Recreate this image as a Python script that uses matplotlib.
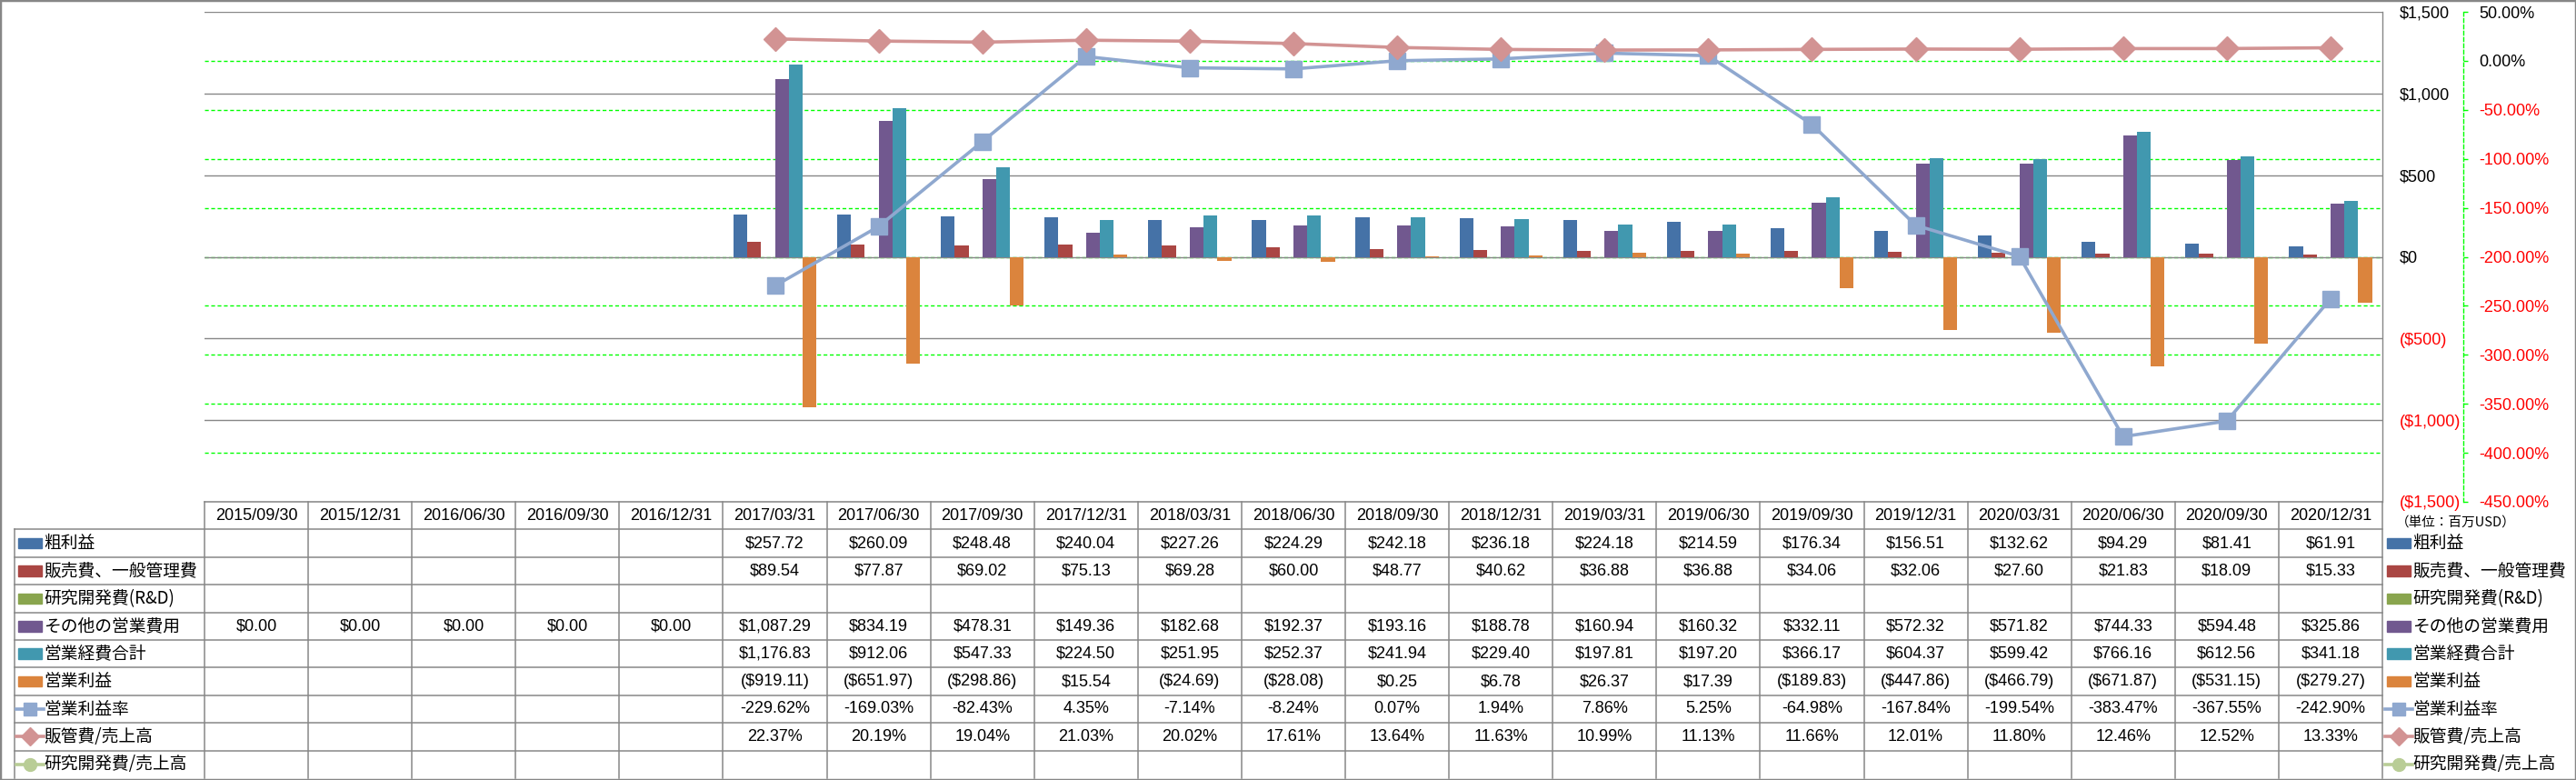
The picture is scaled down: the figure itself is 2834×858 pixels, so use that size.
import numpy as np
import matplotlib
matplotlib.use('Agg')
import matplotlib.pyplot as plt
import matplotlib.transforms as mtransforms
from matplotlib.patches import Rectangle
from matplotlib.lines import Line2D

nan = np.nan

# ---- data (millions USD / percent) ----
dates = ['2015/09/30', '2015/12/31', '2016/06/30', '2016/09/30', '2016/12/31',
         '2017/03/31', '2017/06/30', '2017/09/30', '2017/12/31', '2018/03/31',
         '2018/06/30', '2018/09/30', '2018/12/31', '2019/03/31', '2019/06/30',
         '2019/09/30', '2019/12/31', '2020/03/31', '2020/06/30', '2020/09/30',
         '2020/12/31']

gross_profit = [nan, nan, nan, nan, nan, 257.72, 260.09, 248.48, 240.04, 227.26, 224.29,
                242.18, 236.18, 224.18, 214.59, 176.34, 156.51, 132.62, 94.29, 81.41, 61.91]
sga = [nan, nan, nan, nan, nan, 89.54, 77.87, 69.02, 75.13, 69.28, 60.00,
       48.77, 40.62, 36.88, 36.88, 34.06, 32.06, 27.60, 21.83, 18.09, 15.33]
rnd = [nan] * 21
other_opex = [0.0, 0.0, 0.0, 0.0, 0.0, 1087.29, 834.19, 478.31, 149.36, 182.68, 192.37,
              193.16, 188.78, 160.94, 160.32, 332.11, 572.32, 571.82, 744.33, 594.48, 325.86]
total_opex = [nan, nan, nan, nan, nan, 1176.83, 912.06, 547.33, 224.50, 251.95, 252.37,
              241.94, 229.40, 197.81, 197.20, 366.17, 604.37, 599.42, 766.16, 612.56, 341.18]
op_income = [nan, nan, nan, nan, nan, -919.11, -651.97, -298.86, 15.54, -24.69, -28.08,
             0.25, 6.78, 26.37, 17.39, -189.83, -447.86, -466.79, -671.87, -531.15, -279.27]
op_margin = [nan, nan, nan, nan, nan, -229.62, -169.03, -82.43, 4.35, -7.14, -8.24,
             0.07, 1.94, 7.86, 5.25, -64.98, -167.84, -199.54, -383.47, -367.55, -242.90]
sga_ratio = [nan, nan, nan, nan, nan, 22.37, 20.19, 19.04, 21.03, 20.02, 17.61,
             13.64, 11.63, 10.99, 11.13, 11.66, 12.01, 11.80, 12.46, 12.52, 13.33]
rnd_ratio = [nan] * 21

series_names = ['粗利益', '販売費、一般管理費', '研究開発費(R&D)', 'その他の営業費用',
                '営業経費合計', '営業利益', '営業利益率', '販管費/売上高', '研究開発費/売上高']

bar_data = [gross_profit, sga, rnd, other_opex, total_opex, op_income]
bar_colors = ['#4572A7', '#AA4643', '#89A54E', '#71588F', '#4198AF', '#DB843D']
line_data = [op_margin, sga_ratio, rnd_ratio]
line_colors = ['#8FA8CF', '#D29393', '#B9CD96']
line_markers = ['s', 'D', 'o']

NUM_FONT = ['Liberation Sans', 'DejaVu Sans']
JP_FONT = ['Noto Sans CJK JP', 'DejaVu Sans']
GRAY = '#878787'
GREEN = '#00FF00'


def money(v, dec=2):
    if np.isnan(v):
        return ''
    s = f'${abs(v):,.{dec}f}'
    return f'({s})' if v < 0 else s


def pct(v):
    return '' if np.isnan(v) else f'{v:.2f}%'


# ---- layout in pixels ----
W, H = 2834, 858
PL, PR, PT, PB = 225, 2621, 13, 552
TB = 856

fig = plt.figure(figsize=(W / 100, H / 100), dpi=100)
fig.patch.set_facecolor('white')


def fx(px):
    return px / W


def fy(py):
    return 1 - py / H


n = len(dates)
x = np.arange(n)

ax = fig.add_axes([fx(PL), fy(PB), (PR - PL) / W, (PB - PT) / H])
ax2 = ax.twinx()

# bars
bw = 0.8 / 6
for i, (vals, c) in enumerate(zip(bar_data, bar_colors)):
    ax.bar(x + (i - 2.5) * bw, vals, bw, color=c, zorder=2)

ax.set_xlim(-0.5, n - 0.5)
ax.set_ylim(-1500, 1500)
yticks = np.arange(-1500, 1501, 500)
ax.set_yticks(yticks)
ax.set_yticklabels([money(v, 0) for v in yticks])
ax.yaxis.tick_right()
ax.tick_params(axis='y', length=0, pad=13.5, labelsize=13)
for lab, v in zip(ax.get_yticklabels(), yticks):
    lab.set_color('red' if v < 0 else 'black')
    lab.set_family(NUM_FONT)
ax.set_xticks([])
for s in ['left', 'top', 'bottom']:
    ax.spines[s].set_visible(False)
ax.spines['right'].set_color(GRAY)
ax.spines['right'].set_linewidth(1.0)
ax.grid(axis='y', color=GRAY, lw=1.0)
ax.set_axisbelow(True)

# secondary percent axis
ax2.set_ylim(-450, 50)
pticks = np.arange(-450, 51, 50)
ax2.set_yticks(pticks)
ax2.set_yticklabels([f'{v:.2f}%' for v in pticks])
for s in ['left', 'top', 'bottom']:
    ax2.spines[s].set_visible(False)
ax2.spines['right'].set_position(('outward', 64))
ax2.spines['right'].set_color(GREEN)
ax2.spines['right'].set_linestyle((0, (3, 2)))
ax2.spines['right'].set_linewidth(1.0)
ax2.tick_params(axis='y', direction='out', length=3.5, width=1.0, color=GREEN,
                pad=9, labelsize=13)
for lab, v in zip(ax2.get_yticklabels(), pticks):
    lab.set_color('red' if v < 0 else 'black')
    lab.set_family(NUM_FONT)

# green percent gridlines drawn behind the gray grid and the bars
trans = mtransforms.blended_transform_factory(ax.transAxes, ax2.transData)
for v in pticks[1:-1]:
    ax.add_line(Line2D([0, 1], [v, v], transform=trans, color=GREEN, lw=1.0,
                       ls=(0, (3, 2)), zorder=0.3))

for vals, c, m in zip(line_data, line_colors, line_markers):
    ax2.plot(x, vals, color=c, lw=2.6, marker=m, ms=13, mec=c, mfc=c, zorder=3)

# ---- data table ----
tab = fig.add_axes([fx(PL), fy(TB), (PR - PL) / W, (TB - PB) / H])
tab.set_xlim(-0.5, n - 0.5)
tab.set_ylim(10, 0)
tab.axis('off')
colpx = (PR - PL) / n


def xd(px):
    return -0.5 + (px - PL) / colpx


LX = xd(16)
tline = dict(color=GRAY, lw=1.1, clip_on=False)
tab.plot([-0.5, n - 0.5], [0, 0], **tline)
for r in range(1, 10):
    tab.plot([LX, n - 0.5], [r, r], **tline)
for k in range(n + 1):
    tab.plot([k - 0.5, k - 0.5], [0, 10], **tline)
tab.plot([LX, LX], [1, 10], **tline)

for i, d in enumerate(dates):
    tab.text(i, 0.5, d, ha='center', va='center', fontsize=13, family=NUM_FONT)

rows_text = [[money(v) for v in gross_profit], [money(v) for v in sga],
             [money(v) for v in rnd], [money(v) for v in other_opex],
             [money(v) for v in total_opex], [money(v) for v in op_income],
             [pct(v) for v in op_margin], [pct(v) for v in sga_ratio],
             [pct(v) for v in rnd_ratio]]
for r, row in enumerate(rows_text):
    for i, s in enumerate(row):
        tab.text(i, r + 1.5, s, ha='center', va='center', fontsize=13, family=NUM_FONT)


def legend_key(x0, x1, yc, idx):
    if idx < 6:
        tab.add_patch(Rectangle((xd(x0), yc - 0.19), xd(x1) - xd(x0), 0.38,
                                color=bar_colors[idx], clip_on=False))
    else:
        c = line_colors[idx - 6]
        tab.plot([xd(x0 - 2), xd(x1 + 2)], [yc, yc], color=c, lw=2.6, clip_on=False)
        tab.plot([(xd(x0) + xd(x1)) / 2], [yc], marker=line_markers[idx - 6], ms=10,
                 color=c, clip_on=False)


for r, name in enumerate(series_names):
    yc = r + 1.5
    legend_key(20, 46, yc, r)
    tab.text(xd(48), yc, name, ha='left', va='center', fontsize=13.5, family=JP_FONT)
    legend_key(2626, 2652, yc, r)
    tab.text(xd(2654), yc, name, ha='left', va='center', fontsize=13.5, family=JP_FONT)

fig.text(fx(2636), fy(575), '（単位：百万USD）', ha='left', va='center',
         fontsize=10.5, family=JP_FONT)

fig.add_artist(Rectangle((0, 0), 1, 1, transform=fig.transFigure, fill=False,
                         edgecolor=GRAY, lw=2.5))

fig.savefig('out.png', dpi=100)
